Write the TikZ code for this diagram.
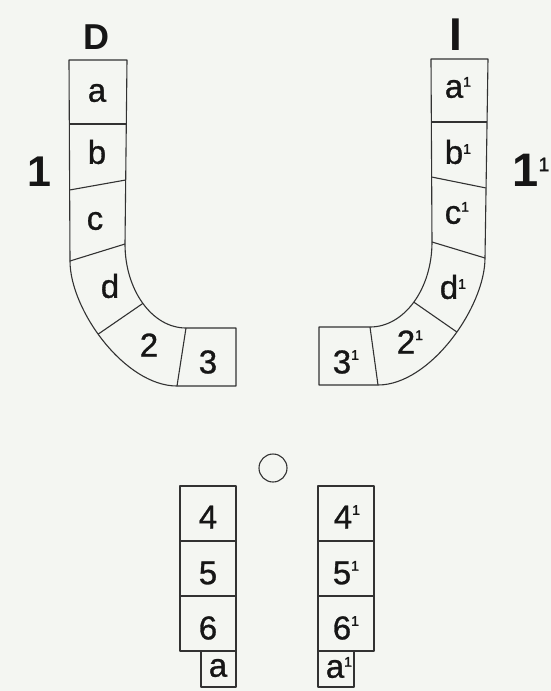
\documentclass[tikz,border=0pt]{standalone}
\usepackage{fontspec}
\setmainfont{Liberation Sans}
\newfontfamily\labfont[FakeBold=0.9]{Liberation Sans}
\newfontfamily\supfont[FakeBold=1.6]{Liberation Sans}
\definecolor{bg}{RGB}{244,246,242}
\definecolor{ink}{RGB}{22,22,22}
\definecolor{edge}{RGB}{50,50,50}
\newcommand\sone[1]{\rlap{\smash{\raisebox{#1pt}{\supfont\fontsize{14}{14}\selectfont 1}}}}
\begin{document}
\begin{tikzpicture}[x=1pt,y=-1pt,
  part/.style={draw=edge, line width=1.1pt, line join=round},
  lab/.style={inner sep=0pt, text=ink, font=\labfont\fontsize{33}{33}\selectfont},
  head/.style={inner sep=0pt, text=ink, font=\bfseries\fontsize{#1}{#1}\selectfont}]
\fill[bg] (0,0) rectangle (551,691);
\useasboundingbox (0,0) rectangle (551,691);

% ---------- left U ----------
\draw[part] (69,60) -- (127,60) -- (125,244)
  .. controls (125,290.4) and (152.3,328) .. (186,328) -- (236,328) -- (236,386) -- (177,386)
  .. controls (125,386) and (70,310) .. (70,261) -- cycle;
\path (125,244) .. controls (125,290.4) and (152.3,328) .. (186,328) coordinate[pos=0.5] (Li);
\path (177,386) .. controls (125,386) and (70,310) .. (70,261) coordinate[pos=0.55] (Lo);
\draw[part] (69.3,124) -- (126.3,124);
\draw[part] (69.6,190) -- (125.7,180);
\draw[part] (70,261) -- (125,244);
\draw[part] (Lo) -- (Li);
\draw[part] (177,386) -- (186,328);

% ---------- right U ----------
\draw[part] (431,59) -- (488,59) -- (485,258)
  .. controls (485,307) and (430,385) .. (378,385) -- (319,385) -- (319,327) -- (370,327)
  .. controls (404.2,327) and (432,289) .. (432,242) -- cycle;
\path (485,258) .. controls (485,307) and (430,385) .. (378,385) coordinate[pos=0.45] (Ro);
\path (370,327) .. controls (404.2,327) and (432,289) .. (432,242) coordinate[pos=0.5] (Ri);
\draw[part] (431.3,122) -- (487,122);
\draw[part] (431.6,177) -- (486.1,188);
\draw[part] (432,242) -- (485,258);
\draw[part] (Ri) -- (Ro);
\draw[part] (370,327) -- (378,385);

% ---------- bottom columns ----------
\draw[part] (180,486) rectangle (236,651);
\draw[part] (180,541) -- (236,541);
\draw[part] (180,596) -- (236,596);
\draw[part] (201,651) rectangle (236,687);
\draw[part] (318,486) rectangle (374,651);
\draw[part] (318,541) -- (374,541);
\draw[part] (318,596) -- (374,596);
\draw[part] (318,651) rectangle (354,687);
\draw[part] (273,468) circle (14);

% ---------- headings ----------
\node[head=36] (D) at (96,37) {D};
\node[head=46] (I) at (456,35) {I};
\node[head=43] (one) at (39.5,172) {1};
\node[head=47] (oneR) at (525.5,170) {1\rlap{\smash{\raisebox{15pt}{\supfont\mdseries\fontsize{19.5}{19.5}\selectfont 1}}}};

% ---------- left labels ----------
\node[lab] (la) at (97,93) {a};
\node[lab] (lb) at (97,152) {b};
\node[lab] (lc) at (95,221) {c};
\node[lab] (ld) at (110,286) {d};
\node[lab] (l2) at (149,345) {2};
\node[lab] (l3) at (208,362) {3};

% ---------- right labels ----------
\node[lab] (ra) at (454,89) {a\sone{11}};
\node[lab] (rb) at (454,152) {b\sone{10}};
\node[lab] (rc) at (453,215) {c\sone{12}};
\node[lab] (rd) at (449,287) {d\sone{10}};
\node[lab] (r2) at (406,342) {2\sone{13.5}};
\node[lab] (r3) at (342,362) {3\sone{13.5}};

% ---------- bottom labels ----------
\node[lab] (b4) at (208,517) {4};
\node[lab] (b5) at (208,573) {5};
\node[lab] (b6) at (208,628) {6};
\node[lab] (ba) at (218,668) {a};
\node[lab] (c4) at (343,517) {4\sone{13.5}};
\node[lab] (c5) at (342,573) {5\sone{13.5}};
\node[lab] (c6) at (342,628) {6\sone{13.5}};
\node[lab] (ca) at (335,669) {a\sone{11}};
\end{tikzpicture}
\end{document}
